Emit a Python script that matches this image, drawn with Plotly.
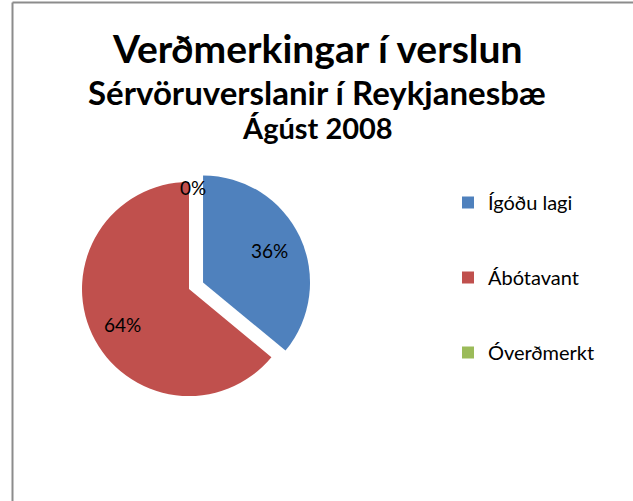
import math
import plotly.graph_objects as go

categories = ["Ígóðu lagi", "Ábótavant", "Óverðmerkt"]
values = [36, 64, 0]
colors = ["#4F81BD", "#C0504D", "#9BBB59"]
pulls = [0.145, 0, 0]

W, H = 633, 501
FONT = "Lato"

def px(x):
    return x / W

def py(y):
    return 1 - y / H

# pie box (pixels)
BOX_L, BOX_R, BOX_T, BOX_B = 66.5, 311.5, 166.5, 411.5
CX, CY = (BOX_L + BOX_R) / 2, (BOX_T + BOX_B) / 2
R = min(BOX_R - BOX_L, BOX_B - BOX_T) / (2 + 2 * max(pulls))

total = sum(values)
fig = go.Figure()

fig.add_trace(go.Pie(
    labels=categories,
    values=values,
    marker=dict(colors=colors, line=dict(width=0)),
    pull=pulls,
    sort=False,
    direction="clockwise",
    rotation=0,
    textinfo="none",
    showlegend=False,
    hoverinfo="label+percent",
    domain=dict(x=[px(BOX_L), px(BOX_R)], y=[py(BOX_B), py(BOX_T)]),
))

# percentage labels, placed from the slice angles
start = 0.0
for v, p in zip(values, pulls):
    frac = v / total
    theta = 2 * math.pi * (start + frac / 2)
    sx, sy = math.sin(theta), -math.cos(theta)
    if frac > 0:
        k = 0.69
        lx = CX + (p + k) * R * sx
        ly = CY + (p + k) * R * sy + (4 if sy > 0 else 0)
    else:
        lx = CX + 4
        ly = CY - 0.95 * R
    fig.add_annotation(
        text=f"{frac:.0%}", x=px(lx), y=py(ly), xref="paper", yref="paper",
        xanchor="center", yanchor="middle", showarrow=False,
        font=dict(family=FONT, size=19, color="#000000"),
    )
    start += frac

# legend entries (one per category, so the spacing can be set)
for i, (c, col) in enumerate(zip(categories, colors)):
    fig.add_trace(go.Scatter(
        x=[None], y=[None], mode="markers", name=c,
        marker=dict(symbol="square", size=12, color=col),
        legendgroup=f"g{i}", showlegend=True,
    ))

titles = [
    ("Verðmerkingar í verslun", 39, 48),
    ("Sérvöruverslanir í Reykjanesbæ", 33, 92),
    ("Ágúst 2008", 29, 128),
]
for t, s, yc in titles:
    fig.add_annotation(
        text=f"<b>{t}</b>", x=px(317), y=py(yc), xref="paper", yref="paper",
        xanchor="center", yanchor="middle", showarrow=False,
        font=dict(family=FONT, size=s, color="#000000"),
    )

# chart-area border (left and top edges visible)
fig.add_shape(type="line", xref="paper", yref="paper",
              x0=px(12.5), x1=px(12.5), y0=0, y1=py(2.5),
              line=dict(color="#8C8C8C", width=2))
fig.add_shape(type="line", xref="paper", yref="paper",
              x0=px(12.5), x1=1, y0=py(2.5), y1=py(2.5),
              line=dict(color="#8C8C8C", width=2))

fig.update_layout(
    width=W, height=H,
    margin=dict(l=0, r=0, t=0, b=0),
    paper_bgcolor="white", plot_bgcolor="white",
    xaxis=dict(visible=False), yaxis=dict(visible=False),
    legend=dict(
        x=px(448), y=py(183), xanchor="left", yanchor="top",
        font=dict(family=FONT, size=20, color="#000000"),
        tracegroupgap=46, itemclick=False, itemdoubleclick=False,
        bgcolor="rgba(0,0,0,0)",
    ),
)

fig.write_html("out.html", config={"displayModeBar": False},
               post_script="document.body.style.margin='0';")
